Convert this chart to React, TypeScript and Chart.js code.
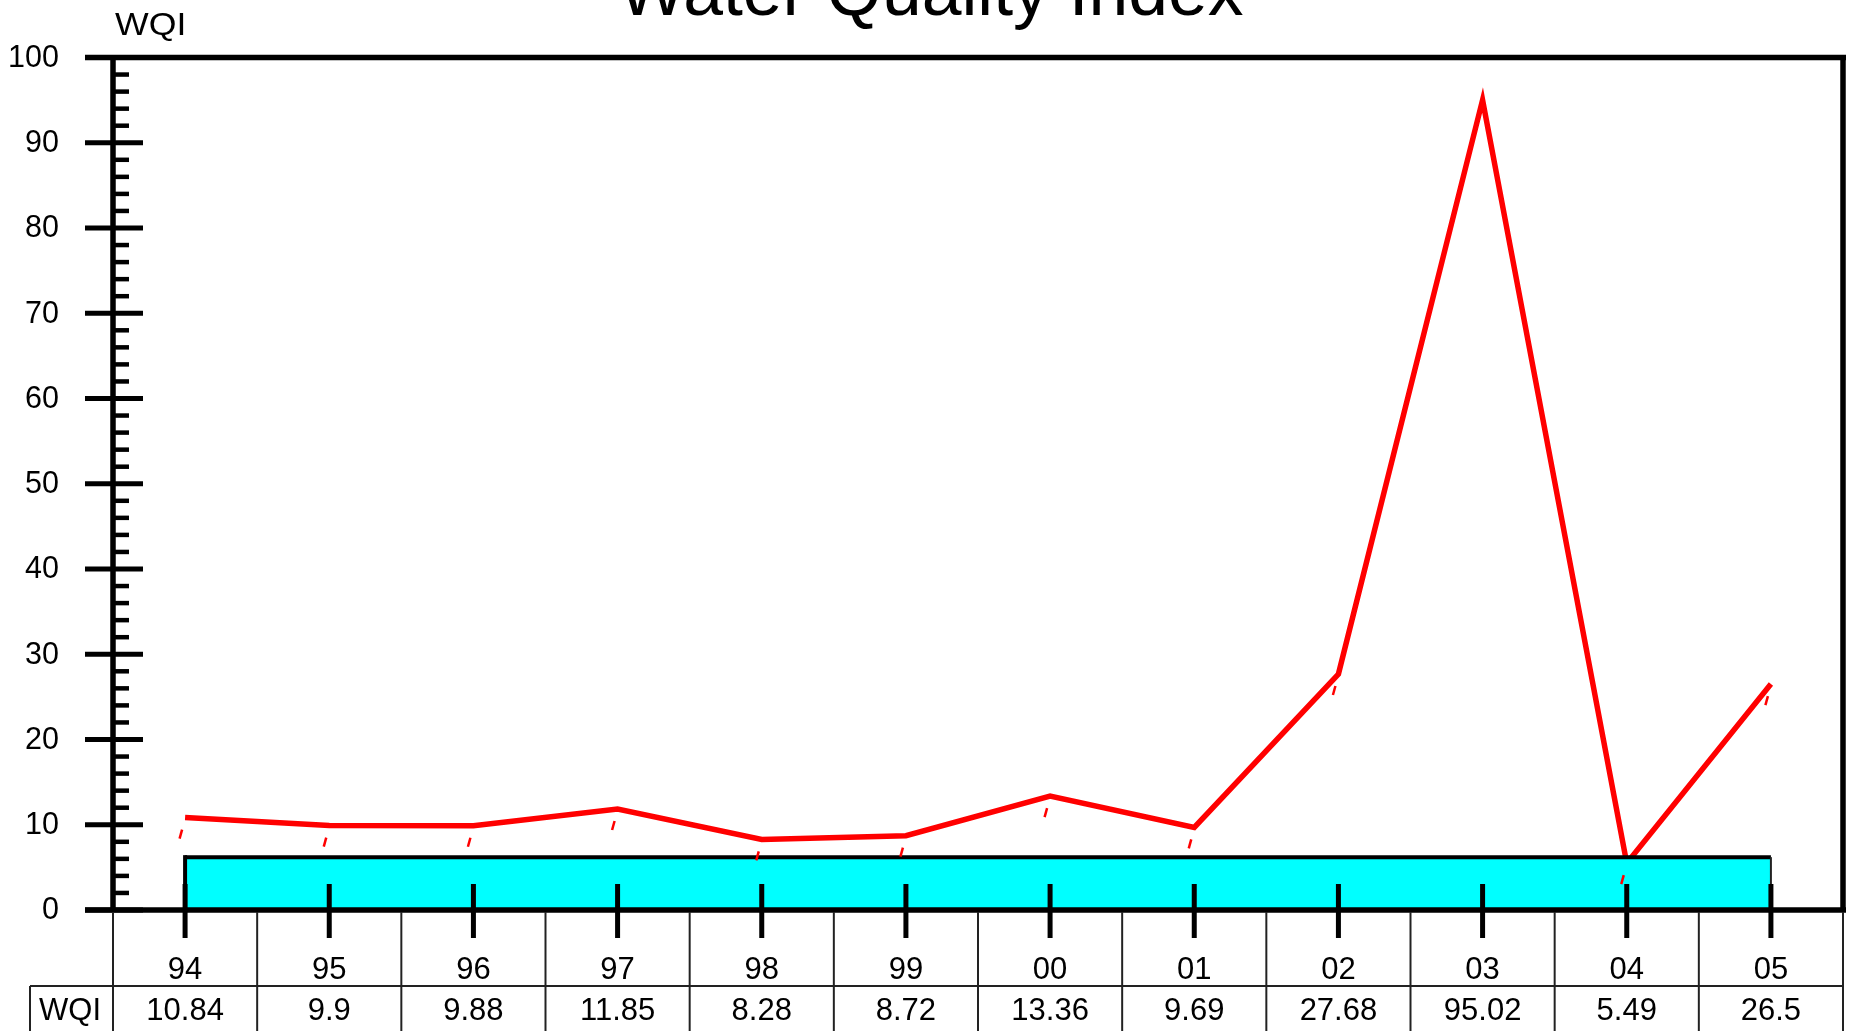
import { useEffect, useRef } from 'react';
import { Chart, registerables } from 'chart.js';

Chart.register(...registerables);

const FONT = "'Liberation Sans', Arial, Helvetica, sans-serif";

const chartTitle = 'Water Quality Index';
const seriesName = 'WQI';
const years = ['94', '95', '96', '97', '98', '99', '00', '01', '02', '03', '04', '05'];
const wqiValues = [10.84, 9.9, 9.88, 11.85, 8.28, 8.72, 13.36, 9.69, 27.68, 95.02, 5.49, 26.5];
const bandValues = [6.2, 6.2, 6.2, 6.2, 6.2, 6.2, 6.2, 6.2, 6.2, 6.2, 6.2, 6.2];
const yTickLabels = ['0', '10', '20', '30', '40', '50', '60', '70', '80', '90', '100'];
const yMin = 0;
const yMax = 100;
const yMajorStep = 10;
const yMinorStep = 2;

const framePlugin = {
  id: 'wqiFrame',
  afterDraw(chart: any) {
    const { ctx, chartArea, scales } = chart;
    const xs = scales.x;
    const ys = scales.y;
    const H = chart.height;
    const L = chartArea.left;
    const R = chartArea.right;
    const T = ys.getPixelForValue(yMax);
    const B = ys.getPixelForValue(yMin);
    const line = (x1: number, y1: number, x2: number, y2: number) => {
      ctx.beginPath();
      ctx.moveTo(x1, y1);
      ctx.lineTo(x2, y2);
      ctx.stroke();
    };
    ctx.save();
    ctx.lineCap = 'butt';
    ctx.strokeStyle = '#000';

    // band edges
    const bm = chart.getDatasetMeta(0).data;
    if (bm.length) {
      ctx.lineWidth = 4;
      line(bm[0].x, bm[0].y - 2, bm[0].x, B);
      ctx.strokeStyle = '#222';
      ctx.lineWidth = 2;
      line(bm[bm.length - 1].x, bm[bm.length - 1].y, bm[bm.length - 1].x, B);
      ctx.strokeStyle = '#000';
    }

    // frame
    ctx.lineWidth = 5.5;
    line(L - 28, T, R + 3, T);
    line(L - 28, B, R + 3, B);
    line(L, T, L, B);
    line(R, T, R, B);

    // y ticks
    for (let v = yMin; v <= yMax; v += yMinorStep) {
      const py = ys.getPixelForValue(v);
      if (v % yMajorStep === 0) {
        ctx.lineWidth = 5;
        line(L - 28, py, L + 30, py);
      } else {
        ctx.lineWidth = 4.5;
        line(L, py, L + 16, py);
      }
    }

    // y tick labels
    ctx.fillStyle = '#000';
    ctx.font = `30.5px ${FONT}`;
    ctx.textAlign = 'right';
    ctx.textBaseline = 'middle';
    yTickLabels.forEach((t) => {
      ctx.fillText(t, 59, ys.getPixelForValue(Number(t)) + 1);
    });

    // x ticks
    ctx.lineWidth = 5;
    for (let i = 0; i < years.length; i++) {
      const px = xs.getPixelForValue(i);
      line(px, B - 26, px, B + 28);
    }

    // table
    const half = (xs.getPixelForValue(1) - xs.getPixelForValue(0)) / 2;
    ctx.strokeStyle = '#222';
    ctx.lineWidth = 2;
    for (let i = 0; i <= years.length; i++) {
      const bx = i < years.length ? xs.getPixelForValue(i) - half : xs.getPixelForValue(years.length - 1) + half;
      line(bx, B + 2, bx, H);
    }
    const rowY = B + 76;
    line(30, rowY, R, rowY);
    line(30, rowY, 30, H);

    ctx.fillStyle = '#000';
    ctx.font = `31px ${FONT}`;
    ctx.textAlign = 'center';
    ctx.textBaseline = 'alphabetic';
    for (let i = 0; i < years.length; i++) {
      const px = xs.getPixelForValue(i);
      ctx.fillText(years[i], px, B + 69);
      ctx.fillText(String(wqiValues[i]), px, B + 110);
    }
    ctx.fillText(seriesName, 70, B + 110);

    // red dashes under each point
    const rm = chart.getDatasetMeta(1).data;
    ctx.strokeStyle = '#ff0000';
    ctx.lineWidth = 2.5;
    for (const p of rm) {
      line(p.x - 3, p.y + 12, p.x - 5.5, p.y + 21);
    }

    // title & axis title
    ctx.fillStyle = '#000';
    ctx.font = `71.5px ${FONT}`;
    ctx.textAlign = 'center';
    ctx.fillText(chartTitle, 931, 15);
    ctx.save();
    ctx.translate(115, 35);
    ctx.scale(1.15, 1);
    ctx.font = `31px ${FONT}`;
    ctx.textAlign = 'left';
    ctx.fillText(seriesName, 0, 0);
    ctx.restore();
    ctx.restore();
  },
};

export default function App() {
  const ref = useRef<HTMLCanvasElement | null>(null);
  useEffect(() => {
    document.body.style.margin = '0';
    const canvas = ref.current;
    if (!canvas) return;
    const chart = new Chart(canvas, {
      type: 'line',
      data: {
        labels: years,
        datasets: [
          {
            label: 'band',
            data: bandValues,
            borderColor: '#000',
            borderWidth: 4,
            backgroundColor: '#00ffff',
            fill: 'origin',
            pointRadius: 0,
            tension: 0,
          },
          {
            label: seriesName,
            data: wqiValues,
            borderColor: '#ff0000',
            borderWidth: 5.5,
            pointRadius: 0,
            fill: false,
            tension: 0,
          },
        ],
      },
      options: {
        animation: false,
        responsive: true,
        maintainAspectRatio: false,
        layout: { padding: { left: 0, right: 10, top: 57.5, bottom: 121 } },
        plugins: {
          legend: { display: false },
          title: { display: false },
          tooltip: { enabled: false },
        },
        scales: {
          x: {
            type: 'category',
            offset: true,
            display: false,
          },
          y: {
            min: yMin,
            max: yMax,
            grid: { display: false },
            border: { display: false },
            ticks: { display: false, stepSize: yMajorStep },
            afterFit(scale: any) {
              scale.width = 113;
            },
          },
        },
      },
      plugins: [framePlugin],
    });
    return () => chart.destroy();
  }, []);
  return (
    <div style={{ position: 'fixed', left: 0, top: 0, width: '100vw', height: '100vh' }}>
      <canvas ref={ref} />
    </div>
  );
}
